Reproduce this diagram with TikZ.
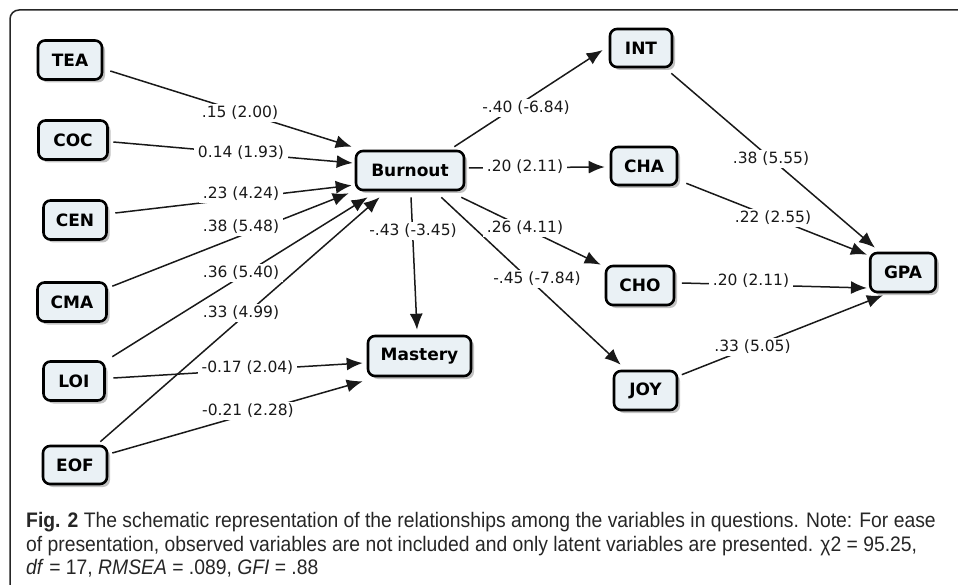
\documentclass[tikz,border=0pt]{standalone}
\usepackage{fontspec}
\setmainfont{DejaVu Sans}
\newfontfamily\capfont[FakeStretch=0.92]{Liberation Sans}
\usetikzlibrary{arrows.meta,shadows,calc}
\definecolor{boxfill}{HTML}{EAF1F5}
\begin{document}
\begin{tikzpicture}[x=1pt,y=-1pt,
  var/.style={draw=black, line width=2.6pt, rounded corners=7pt, fill=boxfill,
    minimum height=39pt, inner sep=0pt, font=\fontsize{17}{20}\selectfont\bfseries,
    drop shadow={shadow xshift=3pt, shadow yshift=-3pt, fill=black!40, opacity=0.6}},
  lab/.style={fill=white, inner xsep=4pt, inner ysep=2pt, text=black!90,
    font=\fontsize{15.5}{18}\selectfont},
  conn/.style={line width=1.5pt, draw=black!90, -{Latex[length=16pt,width=13pt]}},
  captext/.style={anchor=base west, inner sep=0pt, text=black!85,
    font=\capfont\fontsize{21}{24}\selectfont}]
\useasboundingbox (0,0) rectangle (958,585);
\draw[line width=1.5pt, black!85, rounded corners=9pt] (10,586) -- (10,10) -- (959,10);

% variables
\node[var, minimum width=64pt] (TEA) at (70,60) {TEA};
\node[var, minimum width=69pt] (COC) at (73,140) {COC};
\node[var, minimum width=63pt] (CEN) at (75,220) {CEN};
\node[var, minimum width=69pt] (CMA) at (72,302) {CMA};
\node[var, minimum width=61pt] (LOI) at (74,381) {LOI};
\node[var, minimum width=64pt, minimum height=38pt] (EOF) at (75,465) {EOF};
\node[var, minimum width=108pt] (Burnout) at (410,170.5) {Burnout};
\node[var, minimum width=103pt, minimum height=40pt] (Mastery) at (419.5,356) {Mastery};
\node[var, minimum width=62pt, minimum height=38pt] (INT) at (641,48) {INT};
\node[var, minimum width=66pt, minimum height=38pt] (CHA) at (644,166) {CHA};
\node[var, minimum width=68pt] (CHO) at (640,285.5) {CHO};
\node[var, minimum width=63pt] (JOY) at (645.5,390.5) {JOY};
\node[var, minimum width=65.5pt] (GPA) at (903,272.5) {GPA};

% connectors
\draw[conn] ($(TEA.east)+(7,11)$) -- ($(Burnout.north west)+(-3,-3)$);
\draw[conn] ($(COC.east)+(4.5,2)$) -- ($(Burnout.west)+(-2,-7.5)$);
\draw[conn] ($(CEN.east)+(7.5,-7)$) -- ($(Burnout.south west)+(-3,-6)$);
\draw[conn] ($(CMA.north east)+(4.5,5)$) -- ($(Burnout.south west)+(-6,2)$);
\draw[conn] ($(LOI.north east)+(6.5,-3.5)$) -- ($(Burnout.south west)+(13,6)$);
\draw[conn] ($(EOF.north east)+(-8,-3)$) -- ($(Burnout.south west)+(25,6)$);
\draw[conn] ($(LOI.east)+(7.5,-3)$) -- ($(Mastery.west)+(-4,7)$);
\draw[conn] ($(EOF.east)+(4,-12)$) -- ($(Mastery.south west)+(-4,4)$);
\draw[conn] ($(Burnout.south)+(1,6)$) -- ($(Mastery.north)+(-2.5,-5)$);
\draw[conn] ($(Burnout.north east)+(-11,-3)$) -- ($(INT.west)+(-6,2)$);
\draw[conn] ($(Burnout.east)+(3.5,-2.5)$) -- ($(CHA.west)+(-5,1)$);
\draw[conn] ($(Burnout.south east)+(-4,6)$) -- ($(CHO.north west)+(-4,0)$);
\draw[conn] ($(Burnout.south east)+(-24,6)$) -- ($(JOY.north west)+(8,-5)$);
\draw[conn] ($(INT.south east)+(-2,5)$) -- ($(GPA.north west)+(6,-4)$);
\draw[conn] ($(CHA.south east)+(8,-3)$) -- ($(GPA.north west)+(-2,3)$);
\draw[conn] ($(CHO.east)+(6.5,-2.5)$) -- ($(GPA.west)+(-2,15.5)$);
\draw[conn] ($(JOY.north east)+(3.5,5)$) -- ($(GPA.south west)+(14,2)$);

% labels
\node[lab] (l1) at (240,113) {.15 (2.00)};
\node[lab] (l2) at (241,153) {0.14 (1.93)};
\node[lab] (l3) at (241,194) {.23 (4.24)};
\node[lab] (l4) at (241,227) {.38 (5.48)};
\node[lab] (l5) at (241,273) {.36 (5.40)};
\node[lab] (l6) at (241,313) {.33 (4.99)};
\node[lab] (l7) at (247.5,368) {-0.17 (2.04)};
\node[lab] (l8) at (248,411) {-0.21 (2.28)};
\node[lab] (l9) at (413,231) {-.43 (-3.45)};
\node[lab] (l10) at (526,108) {-.40 (-6.84)};
\node[lab] (l11) at (525,167) {.20 (2.11)};
\node[lab] (l12) at (525,228) {.26 (4.11)};
\node[lab] (l13) at (537,279) {-.45 (-7.84)};
\node[lab] (l14) at (771,159) {.38 (5.55)};
\node[lab] (l15) at (773,218) {.22 (2.55)};
\node[lab] (l16) at (751,281) {.20 (2.11)};
\node[lab] (l17) at (752.5,347) {.33 (5.05)};

% caption
\node[captext] (cap1) at (26,527) {\textbf{Fig. 2} The schematic representation of the relationships among the variables in questions. Note: For ease};
\node[captext] (cap2) at (26,551) {of presentation, observed variables are not included and only latent variables are presented. χ2 = 95.25,};
\node[captext] (cap3) at (26,574) {\textit{df} = 17, \textit{RMSEA} = .089, \textit{GFI} = .88};
\end{tikzpicture}
\end{document}
